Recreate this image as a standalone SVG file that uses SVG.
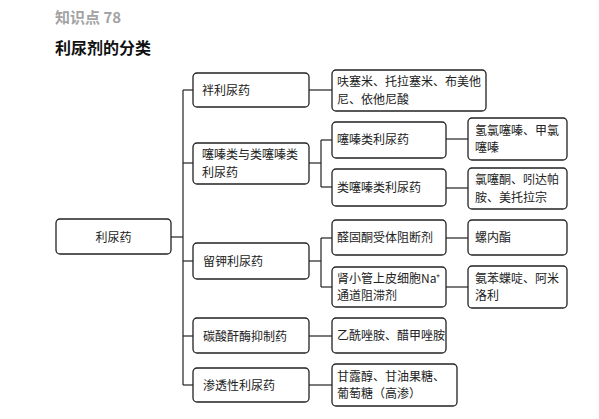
<svg xmlns="http://www.w3.org/2000/svg" width="599" height="419" viewBox="0 0 599 419">
<style>
.b{fill:#fff;stroke:#222;stroke-width:1.3}
.t{font-family:"Noto Sans CJK SC","Noto Sans CJK JP",sans-serif;font-size:12px;fill:#222}
.c line{stroke:#222;stroke-width:1.2}
</style>
<rect width="599" height="419" fill="#fff"/>
<text x="55" y="23" style="font-family:'Noto Sans CJK SC',sans-serif;font-size:15px;font-weight:bold;fill:#a3a3a3">知识点 78</text>
<text x="55" y="54" style="font-family:'Noto Sans CJK SC',sans-serif;font-size:16px;font-weight:bold;fill:#111">利尿剂的分类</text>
<g class="c" id="connectors">
<line x1="171" y1="237" x2="183" y2="237"/>
<line x1="183" y1="90" x2="183" y2="385"/>
<line x1="183" y1="90" x2="193" y2="90"/>
<line x1="183" y1="163" x2="193" y2="163"/>
<line x1="183" y1="261" x2="193" y2="261"/>
<line x1="183" y1="336" x2="193" y2="336"/>
<line x1="183" y1="385" x2="193" y2="385"/>
<line x1="309" y1="90" x2="332" y2="90"/>
<line x1="309" y1="163" x2="321" y2="163"/>
<line x1="321" y1="140" x2="321" y2="187"/>
<line x1="321" y1="140" x2="332" y2="140"/>
<line x1="321" y1="187" x2="332" y2="187"/>
<line x1="446" y1="139" x2="468" y2="139"/>
<line x1="446" y1="188" x2="468" y2="188"/>
<line x1="309" y1="261" x2="321" y2="261"/>
<line x1="321" y1="238" x2="321" y2="287"/>
<line x1="321" y1="238" x2="332" y2="238"/>
<line x1="321" y1="287" x2="332" y2="287"/>
<line x1="446" y1="238" x2="468" y2="238"/>
<line x1="446" y1="287" x2="468" y2="287"/>
<line x1="309" y1="336" x2="332" y2="336"/>
<line x1="309" y1="385" x2="332" y2="385"/>
</g>
<g id="root"><rect class="b" x="56" y="219" width="115" height="35" rx="4"/><text class="t" x="113.5" y="241.5" text-anchor="middle">利尿药</text></g>
<g id="n1"><rect class="b" x="193" y="73" width="116" height="34" rx="4"/><text class="t" x="202" y="94.5">袢利尿药</text></g>
<g id="n2"><rect class="b" x="193" y="143" width="116" height="41" rx="4"/><text class="t"><tspan x="202" y="159">噻嗪类与类噻嗪类</tspan><tspan x="202" y="176.6">利尿药</tspan></text></g>
<g id="n3"><rect class="b" x="193" y="243" width="116" height="36" rx="4"/><text class="t" x="203" y="265.5">留钾利尿药</text></g>
<g id="n4"><rect class="b" x="193" y="318" width="116" height="35" rx="4"/><text class="t" x="203" y="340.5">碳酸酐酶抑制药</text></g>
<g id="n5"><rect class="b" x="193" y="368" width="116" height="34" rx="4"/><text class="t" x="203" y="389.5">渗透性利尿药</text></g>
<g id="n1a"><rect class="b" x="332" y="70" width="154" height="41" rx="4"/><text class="t"><tspan x="337" y="86">呋塞米、托拉塞米、布美他</tspan><tspan x="337" y="103.6">尼、依他尼酸</tspan></text></g>
<g id="n2a"><rect class="b" x="332" y="122" width="114" height="36" rx="4"/><text class="t" x="337" y="144">噻嗪类利尿药</text></g>
<g id="n2b"><rect class="b" x="332" y="169" width="114" height="37" rx="4"/><text class="t" x="337" y="192">类噻嗪类利尿药</text></g>
<g id="n2a1"><rect class="b" x="468" y="118" width="99" height="42" rx="4"/><text class="t"><tspan x="475" y="134.5">氢氯噻嗪、甲氯</tspan><tspan x="475" y="152.1">噻嗪</tspan></text></g>
<g id="n2b1"><rect class="b" x="468" y="168" width="99" height="41" rx="4"/><text class="t"><tspan x="475" y="184">氯噻酮、吲达帕</tspan><tspan x="475" y="201.6">胺、美托拉宗</tspan></text></g>
<g id="n3a"><rect class="b" x="332" y="220" width="114" height="35" rx="4"/><text class="t" x="337" y="242">醛固酮受体阻断剂</text></g>
<g id="n3b"><rect class="b" x="332" y="267" width="114" height="40" rx="4"/><text class="t"><tspan x="337" y="282.5">肾小管上皮细胞Na⁺</tspan><tspan x="337" y="300.1">通道阻滞剂</tspan></text></g>
<g id="n3a1"><rect class="b" x="468" y="220" width="99" height="35" rx="4"/><text class="t" x="475" y="242">螺内酯</text></g>
<g id="n3b1"><rect class="b" x="468" y="266" width="99" height="42" rx="4"/><text class="t"><tspan x="475" y="282.5">氨苯蝶啶、阿米</tspan><tspan x="475" y="300.1">洛利</tspan></text></g>
<g id="n4a"><rect class="b" x="332" y="318" width="114" height="35" rx="4"/><text class="t" x="337" y="340">乙酰唑胺、醋甲唑胺</text></g>
<g id="n5a"><rect class="b" x="332" y="364" width="125" height="42" rx="4"/><text class="t"><tspan x="337" y="380.5">甘露醇、甘油果糖、</tspan><tspan x="337" y="398.1">葡萄糖（高渗）</tspan></text></g>
</svg>
